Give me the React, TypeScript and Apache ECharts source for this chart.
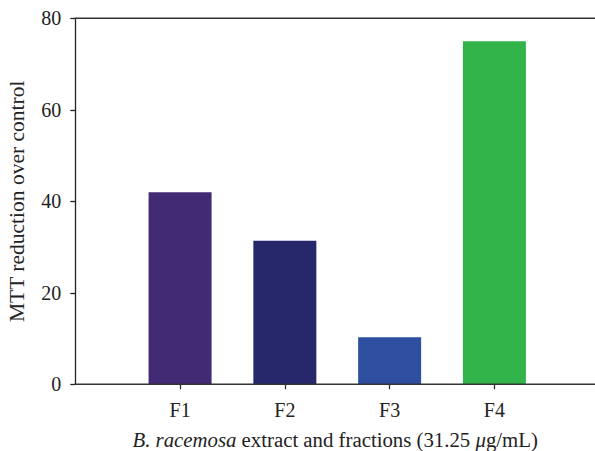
import React, { useEffect, useRef } from "react";
import * as echarts from "echarts";

const categories = ["F1", "F2", "F3", "F4"];
const positions = [1, 2, 3, 4];
const values = [42.0, 31.4, 10.3, 75.0];
const barColors = ["#432a74", "#27276b", "#2e4e9f", "#33b44a"];
const yTicks = [0, 20, 40, 60, 80];

const FONT = "Liberation Serif";
const FS = 20;
const W = 595;
const H = 451;
const GL = 75.3;
const GT = 18.3;
const GH = 366;
const LW = 1.4;

export default function App() {
  const ref = useRef<HTMLDivElement>(null);
  useEffect(() => {
    document.body.style.margin = "0";
    document.documentElement.style.overflow = "hidden";
    const chart = echarts.init(ref.current!, null, { renderer: "svg" });
    chart.setOption({
      animation: false,
      textStyle: { fontFamily: FONT },
      grid: { left: GL, top: GT, right: 0, height: GH, outerBoundsMode: "none", containLabel: false },
      graphic: [
        {
          type: "rect",
          z: 10,
          shape: { x: GL - LW / 2, y: GT - LW / 2, width: W - GL + LW, height: LW },
          style: { fill: "#333" },
        },
        {
          type: "rect",
          z: 10,
          shape: { x: GL - LW / 2, y: GT + GH - LW / 2, width: W - GL + LW, height: LW },
          style: { fill: "#333" },
        },
      ],
      xAxis: {
        type: "value",
        min: 0,
        max: 4.96,
        splitLine: { show: false },
        axisLine: { show: false },
        axisTick: {
          show: true,
          length: 5,
          customValues: positions,
          lineStyle: { color: "#333", width: 1.3 },
        },
        axisLabel: {
          color: "#222",
          fontSize: FS,
          fontFamily: FONT,
          margin: 16,
          customValues: positions,
          formatter: (v: number) => categories[positions.indexOf(Math.round(v))] ?? "",
        },
        name: "{i|B. racemosa} extract and fractions (31.25 {i|μ}g/mL)",
        nameLocation: "middle",
        nameGap: 45,
        nameTextStyle: {
          color: "#222",
          fontSize: 20.8,
          fontFamily: FONT,
          rich: { i: { fontStyle: "italic", fontSize: 20.8, fontFamily: FONT, color: "#222" } },
        },
      },
      yAxis: {
        type: "value",
        min: 0,
        max: 80,
        interval: 20,
        splitLine: { show: false },
        axisLine: { show: true, lineStyle: { color: "#222", width: 1.3 } },
        axisTick: { show: true, length: 5, lineStyle: { color: "#222", width: 1.3 } },
        axisLabel: {
          color: "#222",
          fontSize: FS,
          fontFamily: FONT,
          margin: 14,
          customValues: yTicks,
        },
        name: "MTT reduction over control",
        nameLocation: "middle",
        nameGap: 47,
        nameTextStyle: { color: "#222", fontSize: 21.5, fontFamily: FONT },
      },
      series: [
        {
          type: "bar",
          barWidth: 63,
          data: values.map((v, i) => ({ value: [positions[i], v], itemStyle: { color: barColors[i] } })),
        },
      ],
    });
    return () => chart.dispose();
  }, []);
  return <div ref={ref} style={{ width: W, height: H }} />;
}
